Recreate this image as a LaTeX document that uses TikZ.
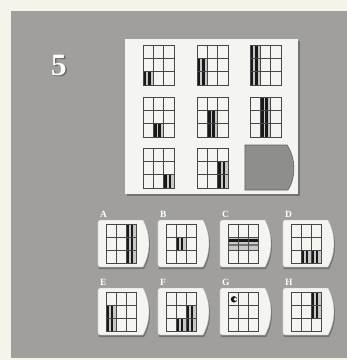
\documentclass[tikz,border=0pt]{standalone}
\usepackage{fontspec}
\setmainfont{Liberation Serif}
\definecolor{pagecream}{HTML}{F5F3EA}
\definecolor{bggray}{HTML}{A09F9B}
\definecolor{panelwhite}{HTML}{F4F4F1}
\definecolor{tilegray}{HTML}{8E8E8C}
\newcommand\setgrid[4]{\def\gx{#1}\def\gy{#2}\def\gw{#3}\def\gh{#4}}
\newcommand\drawgridlines{%
  \draw[gridline] (\gx,\gy) rectangle ++(\gw,\gh);
  \foreach \i in {1,2} {
    \draw[gridline] ({\gx+\i*\gw/3},\gy) -- ++(0,\gh);
    \draw[gridline] (\gx,{\gy+\i*\gh/3}) -- ++(\gw,0);
  }}
\newcommand\vertbar[3]{%
  \pgfmathsetmacro\bx{\gx+(#1-1)*\gw/3}%
  \pgfmathsetmacro\by{\gy+(#2-1)*\gh/3}%
  \pgfmathsetmacro\bh{(#3-#2+1)*\gh/3}%
  \pgfmathsetmacro\cw{\gw/3}%
  \fill[lightstripe] (\bx,\by) rectangle ++(\cw,\bh);
  \fill[darkstripe] ({\bx+0.06*\cw},\by) rectangle ++({0.26*\cw},\bh);
  \fill[darkstripe] ({\bx+0.5*\cw},\by) rectangle ++({0.24*\cw},\bh);
}
\newcommand\horizbar[3]{%
  \pgfmathsetmacro\by{\gy+(#1-1)*\gh/3}%
  \pgfmathsetmacro\bx{\gx+(#2-1)*\gw/3}%
  \pgfmathsetmacro\bw{(#3-#2+1)*\gw/3}%
  \pgfmathsetmacro\ch{\gh/3}%
  \fill[lightstripe] (\bx,\by) rectangle ++(\bw,\ch);
  \fill[darkstripe] (\bx,{\by+0.08*\ch}) rectangle ++(\bw,{0.24*\ch});
  \fill[midstripe] (\bx,{\by+0.48*\ch}) rectangle ++(\bw,{0.2*\ch});
}
\newcommand\optionbox[3]{%
  \begin{scope}[shift={(#1,#2)}]
    \fill[boxshadow] (1,2) -- (46,2) .. controls (54,16) and (54,35) .. (46,49) -- (1,49) -- cycle;
    \filldraw[boxface] (2,0) -- (45,0) .. controls (53,14) and (53,33) .. (45,47) -- (2,47)
      arc[start angle=90,end angle=180,radius=2] -- (0,2) arc[start angle=180,end angle=270,radius=2] -- cycle;
    \node[lbl, anchor=south west] (lab#3) at (2,-2.5) {#3};
  \end{scope}
  \setgrid{#1+8}{#2+4.5}{30}{39}%
}
\begin{document}
\begin{tikzpicture}[x=1pt,y=-1pt,
  gridline/.style={draw=black!72, line width=0.7pt},
  darkstripe/.style={fill=black!90},
  midstripe/.style={fill=black!55},
  lightstripe/.style={fill=black!22},
  boxshadow/.style={fill=black!55},
  boxface/.style={fill=panelwhite, draw=black!30, line width=0.4pt},
  lbl/.style={text=white, font=\bfseries\fontsize{9.5}{9.5}\selectfont, inner sep=0pt}]
\useasboundingbox (0,0) rectangle (347,360);
% page and gray background
\fill[pagecream] (0,0) rectangle (347,360);
\fill[bggray] (11,11) rectangle (347,358);
% number
\node[text=black!60, font=\bfseries\fontsize{31}{31}\selectfont] (numshadow) at (60.3,66.3) {5};
\node[text=white, font=\bfseries\fontsize{31}{31}\selectfont] (num) at (59,65) {5};
% main panel
\fill[black!55] (127,41) rectangle (300,196);
\fill[panelwhite] (125,39) rectangle (298,194);
% matrix grids
\setgrid{143}{45}{31}{40}\vertbar{1}{3}{3}\drawgridlines
\setgrid{197}{45}{31}{40}\vertbar{1}{2}{3}\drawgridlines
\setgrid{250}{45}{31}{40}\vertbar{1}{1}{3}\drawgridlines
\setgrid{143}{97}{31}{40}\vertbar{2}{3}{3}\drawgridlines
\setgrid{197}{97}{31}{40}\vertbar{2}{2}{3}\drawgridlines
\setgrid{250}{97}{31}{40}\vertbar{2}{1}{3}\drawgridlines
\setgrid{143}{148}{31}{40}\vertbar{3}{3}{3}\drawgridlines
\setgrid{197}{148}{31}{40}\vertbar{3}{2}{3}\drawgridlines
% blank tile
\filldraw[fill=tilegray, draw=black!62, line width=0.6pt]
  (245,145) -- (287,145) .. controls (296,158) and (296,178) .. (288,190) -- (245,190) -- cycle;
% options row 1
\optionbox{98}{220}{A}\vertbar{3}{1}{3}\drawgridlines
\optionbox{158}{220}{B}\vertbar{2}{2}{2}\drawgridlines
\optionbox{220}{220}{C}\horizbar{2}{1}{3}\drawgridlines
\optionbox{283}{220}{D}\vertbar{2}{3}{3}\vertbar{3}{3}{3}\drawgridlines
% options row 2
\optionbox{98}{288}{E}\vertbar{1}{2}{3}\drawgridlines
\optionbox{158}{288}{F}\vertbar{2}{3}{3}\vertbar{3}{2}{3}\drawgridlines
\optionbox{220}{288}{G}\drawgridlines
\fill[black!90] ({\gx+6},{\gy+6.8}) circle[radius=3.2];
\fill[panelwhite] ({\gx+7.4},{\gy+6.8}) circle[radius=1.8];
\optionbox{283}{288}{H}\vertbar{3}{1}{2}\drawgridlines
\end{tikzpicture}
\end{document}
